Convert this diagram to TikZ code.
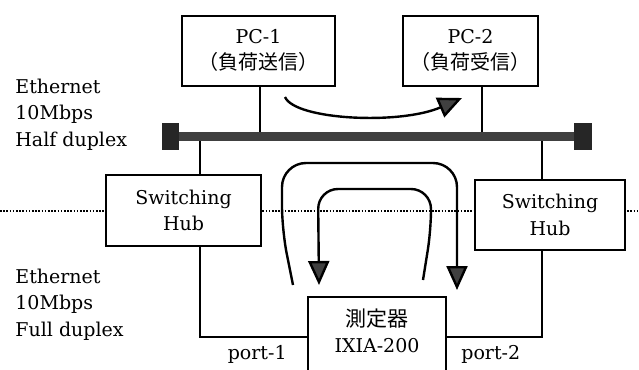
\documentclass[tikz,border=0pt]{standalone}
\usepackage{fontspec}
\setmainfont{DejaVu Serif}
\newfontfamily\jpfont{Noto Sans CJK JP}
\usepackage{tikz}
\usetikzlibrary{arrows.meta, positioning, backgrounds}

\begin{document}
\begin{tikzpicture}[
    x=0.5pt, y=-0.5pt,
    every node/.style={font=\fontsize{9.5}{13.2}\selectfont},
    pc/.style={rectangle, draw=black, line width=1pt, fill=white, align=center, minimum height=35pt, inner sep=0pt},
    hub/.style={rectangle, draw=black, line width=1pt, fill=white, align=center, minimum height=35pt, inner sep=0pt},
    term/.style={rectangle, fill=black!85, minimum width=8.5pt, minimum height=13.5pt, inner sep=0pt},
    lbl/.style={inner sep=1pt, align=left},
    wire/.style={line width=0.9pt},
    bus/.style={line width=4.2pt, black!75},
    flow/.style={line width=1.2pt, -{Triangle[length=12pt, width=10.5pt, fill=black!75]}},
    border/.style={line width=0.6pt, dash pattern=on 0.8pt off 0.8pt}
]
\useasboundingbox (0,0) rectangle (639,370);
\clip (0,0) rectangle (639,370);

% --- PCs on the shared segment ---
\node[pc, minimum width=76.5pt] (pc1) at (258.5,50.5) {PC-1\\{\jpfont\fontsize{10}{13.2}\selectfont （負荷送信）}};
\node[pc, minimum width=67.5pt, right=33pt of pc1] (pc2) {PC-2\\{\jpfont\fontsize{10}{13.2}\selectfont （負荷受信）}};

% --- Bus terminators ---
\node[term] (termL) at (170.5,136.5) {};
\node[term, minimum width=9pt] (termR) at (583,136.5) {};

% --- Switching hubs ---
\node[hub, minimum width=77.5pt, minimum height=35.5pt] (hubL) at (183.5,210.5) {Switching\\Hub};
\node[hub, minimum width=75pt] (hubR) at (550,215) {Switching\\Hub};

% --- Tester ---
\node[pc, minimum width=69pt, minimum height=40pt] (meter) at (377,337) {};
\node[inner sep=0pt, align=center] (meterlbl) at (377,331) {{\jpfont\fontsize{10.5}{13.2}\selectfont 測定器}\\IXIA-200};
\node[lbl, below left=3pt and 9pt of meter.west] (port1) {port-1};
\node[lbl, below right=3pt and 6pt of meter.east] (port2) {port-2};

% --- Segment labels ---
\node[lbl, anchor=north west] (ethhalf) at (13,76.6) {Ethernet\\10Mbps\\Half duplex};
\node[lbl, anchor=north west] (ethfull) at (13,266.6) {Ethernet\\10Mbps\\Full duplex};

% --- Taps ---
\coordinate (tap1) at ([xshift=0.75pt]pc1.south);
\coordinate (tap2) at ([xshift=5.75pt]pc2.south);
\coordinate (tapL) at ([xshift=8.25pt]hubL.north);
\coordinate (tapR) at ([xshift=-4pt]hubR.north);

% --- Wiring ---
\draw[wire] (tap1) -- (tap1 |- termL);
\draw[wire] (tap2) -- (tap2 |- termR);
\draw[wire] (tapL) -- (tapL |- termL);
\draw[wire] (tapR) -- (tapR |- termR);
\draw[bus] (termL) -- (termR);
\draw[wire] (tapL |- hubL.south) |- (meter.west);
\draw[wire] (tapR |- hubR.south) |- (meter.east);

% --- Traffic ---
\coordinate (sendA) at (285,97);
\coordinate (sendB) at (462,98);
\draw[flow] (sendA) .. controls (295,120) and (400,125) .. (sendB);

\coordinate (loopA) at (293,285);
\coordinate (loopB) at (457,290);
\draw[flow, rounded corners=12pt] (loopA) -- (282,230) -- (282,163) -- (457,163) -- (loopB);

\coordinate (backA) at (423,280);
\coordinate (backB) at (319,285);
\draw[flow, rounded corners=10pt] (backA) -- (431,230) -- (431,189) -- (318,189) -- (backB);

% --- Half / full duplex border ---
\coordinate (edgeL) at (0,211);
\coordinate (edgeR) at (639,211);
\begin{scope}[on background layer]
    \draw[border] (edgeL) -- (edgeR);
\end{scope}
\end{tikzpicture}
\end{document}
